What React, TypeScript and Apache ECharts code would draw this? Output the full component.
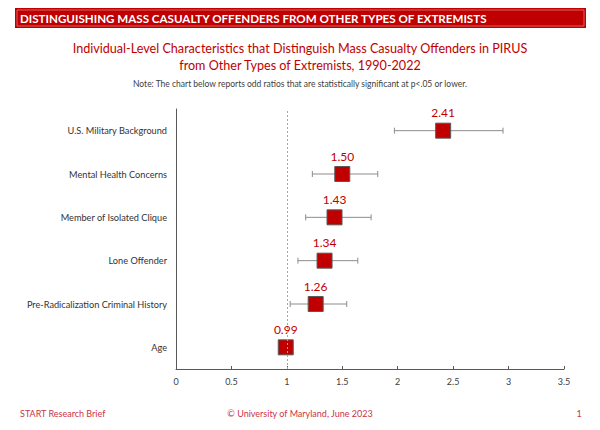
import React, { useEffect, useRef } from "react";
import * as echarts from "echarts";

// Characteristics, listed bottom to top as they appear on the category axis
const categories = [
  "Age",
  "Pre-Radicalization Criminal History",
  "Lone Offender",
  "Member of Isolated Clique",
  "Mental Health Concerns",
  "U.S. Military Background",
];
const oddsRatios = [0.99, 1.26, 1.34, 1.43, 1.5, 2.41];
const lowerCI = [0.98, 1.03, 1.1, 1.17, 1.23, 1.97];
const upperCI = [1.0, 1.54, 1.64, 1.76, 1.82, 2.95];
const xTicks = [0, 0.5, 1, 1.5, 2, 2.5, 3, 3.5];

const FONT = "Lato, 'Open Sans', sans-serif";
const RED = "#c00000";
const FOOT = "#cc3345";

export default function App() {
  const ref = useRef<HTMLDivElement>(null);

  useEffect(() => {
    if (!ref.current) return;
    const chart = echarts.init(ref.current, undefined, { renderer: "svg" });

    const errorData = categories.map((_, i) => [lowerCI[i], upperCI[i], i]);
    const pointData = categories.map((_, i) => [oddsRatios[i], i]);

    const text = (x: number, y: number, t: string, fill: string, font: string, align = "left") => ({
      type: "text",
      x,
      y,
      style: { text: t, fill, font, textAlign: align, textVerticalAlign: "middle" },
    });

    chart.setOption({
      animation: false,
      backgroundColor: "#ffffff",
      textStyle: { fontFamily: FONT },
      graphic: [
        {
          type: "rect",
          shape: { x: 15, y: 8, width: 571, height: 20 },
          style: { fill: RED },
        },
        {
          type: "rect",
          shape: { x: 17, y: 10, width: 567, height: 16 },
          style: { fill: "none", stroke: "#e27a7a", lineWidth: 0.8 },
        },
        text(20, 18.5, "DISTINGUISHING MASS CASUALTY OFFENDERS FROM OTHER TYPES OF EXTREMISTS", "#ffffff", `bold 11.6px ${FONT}`),
        text(300, 48, "Individual-Level Characteristics that Distinguish Mass Casualty Offenders in PIRUS", RED, `12.6px ${FONT}`, "center"),
        text(300, 65, "from Other Types of Extremists, 1990-2022", RED, `12.6px ${FONT}`, "center"),
        text(300, 84, "Note: The chart below reports odd ratios that are statistically significant at p<.05 or lower.", "#404040", `8.5px ${FONT}`, "center"),
        text(20, 413, "START Research Brief", FOOT, `9px ${FONT}`),
        text(300, 413, "© University of Maryland, June 2023", FOOT, `9px ${FONT}`, "center"),
        text(579, 413, "1", FOOT, `9px ${FONT}`, "center"),
      ],
      grid: { left: 176, right: 36, top: 109, bottom: 61 },
      xAxis: {
        type: "value",
        min: 0,
        max: 3.5,
        interval: 0.5,
        axisLine: { show: true, lineStyle: { color: "#595959", width: 1 } },
        axisTick: { show: true, inside: true, length: 3, lineStyle: { color: "#595959" } },
        splitLine: { show: false },
        axisLabel: {
          color: "#404040",
          fontSize: 9,
          fontFamily: FONT,
          margin: 8,
          formatter: (v: number) => (xTicks.includes(v) ? String(v) : ""),
        },
      },
      yAxis: {
        type: "category",
        data: categories,
        axisLine: { show: true, lineStyle: { color: "#595959", width: 1 } },
        axisTick: { show: false },
        axisLabel: { color: "#333333", fontSize: 9.2, fontFamily: FONT, margin: 9 },
      },
      series: [
        {
          type: "custom",
          z: 2,
          data: errorData,
          renderItem: (params: any, api: any) => {
            const lo = api.coord([api.value(0), api.value(2)]);
            const hi = api.coord([api.value(1), api.value(2)]);
            const cap = 3;
            const style = { stroke: "#8c8c8c", lineWidth: 1 };
            return {
              type: "group",
              children: [
                { type: "line", shape: { x1: lo[0], y1: lo[1], x2: hi[0], y2: hi[1] }, style },
                { type: "line", shape: { x1: lo[0], y1: lo[1] - cap, x2: lo[0], y2: lo[1] + cap }, style },
                { type: "line", shape: { x1: hi[0], y1: hi[1] - cap, x2: hi[0], y2: hi[1] + cap }, style },
              ],
            };
          },
        },
        {
          type: "scatter",
          z: 3,
          data: pointData,
          symbol: "rect",
          symbolSize: 15,
          itemStyle: { color: RED, borderColor: "#5a5a5a", borderWidth: 1, opacity: 1 },
          label: {
            show: true,
            position: "top",
            distance: 4,
            color: RED,
            fontSize: 12,
            fontFamily: FONT,
            formatter: (p: any) => p.value[0].toFixed(2),
          },
          markLine: {
            silent: true,
            symbol: "none",
            label: { show: false },
            lineStyle: { color: "#a6a6a6", type: [2, 2], width: 1, opacity: 1 },
            data: [{ xAxis: 1 }],
          },
        },
      ],
    });

    return () => chart.dispose();
  }, []);

  return <div ref={ref} style={{ width: 600, height: 430, position: "fixed", left: 0, top: 0 }} />;
}
